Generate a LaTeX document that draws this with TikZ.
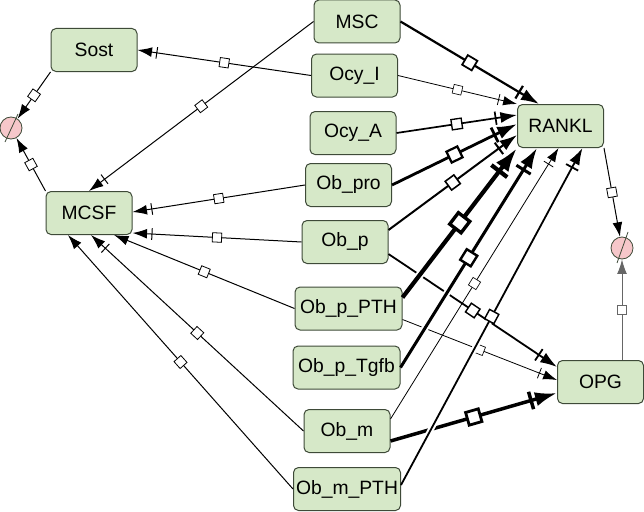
\documentclass[tikz,border=0pt]{standalone}
\usepackage{fontspec}
\setmainfont{Liberation Sans}
\usetikzlibrary{arrows.meta,calc,decorations.markings}
\definecolor{nodefill}{HTML}{D6E8C8}
\definecolor{nodeline}{HTML}{3E4A38}
\definecolor{degfill}{HTML}{F6C7CA}
\tikzset{
  sp/.style={draw=nodeline, fill=nodefill, rounded corners=5pt, line width=1pt,
    minimum width=86pt, minimum height=43pt, inner sep=0pt,
    font=\fontsize{19.3}{22}\selectfont},
  spw/.style={sp, minimum width=107pt},
  degr/.style={circle, draw=nodeline, fill=degfill, line width=0.8pt, minimum size=22pt, inner sep=0pt},
  basearr/.code={%
    \pgfmathsetmacro\lwv{#1}%
    \pgfmathsetmacro\sqv{3.8+0.8*#1}%
    \pgfmathsetmacro\sqw{0.8*#1}%
    \tikzset{line width=\lwv pt, -{Latex[length={11.5pt 3},width={8pt 1.8}]},
      postaction={decorate,decoration={markings,
        mark=at position 0.5 with {\draw[line width=\sqw pt,fill=white,arrows=-] (-\sqv pt,-\sqv pt) rectangle (\sqv pt,\sqv pt);}}}}%
  },
  barmark/.code={%
    \pgfmathsetmacro\bdv{16.5+3*#1}%
    \pgfmathsetmacro\bhv{4.5+1.3*#1}%
    \tikzset{postaction={decorate,decoration={markings,
        mark=at position -\bdv pt with {\draw[arrows=-] (0pt,-\bhv pt) -- (0pt,\bhv pt);}}}}%
  },
  flow/.style={basearr=#1},
  infl/.style={basearr=#1, barmark=#1},
  halo/.style={preaction={draw=white, line width=#1pt, arrows=-, shorten <=8pt, shorten >=30pt}},
}
\begin{document}
\begin{tikzpicture}[x=1pt,y=-1pt]
\useasboundingbox (0,0) rectangle (644,511);
% nodes
\node[sp]  (sost)    at (94,50)     {Sost};
\node[sp]  (msc)     at (357,21.5)  {MSC};
\node[sp]  (ocyi)    at (354.5,75.5) {Ocy\_I};
\node[sp]  (ocya)    at (353,133)   {Ocy\_A};
\node[sp]  (rankl)   at (560.5,126) {RANKL};
\node[sp]  (obpro)   at (348.5,185) {Ob\_pro};
\node[sp]  (mcsf)    at (89,213)    {MCSF};
\node[sp]  (obp)     at (345,242)   {Ob\_p};
\node[spw] (obppth)  at (348.5,308.5) {Ob\_p\_PTH};
\node[spw] (obptgfb) at (346.5,367.5) {Ob\_p\_Tgfb};
\node[sp]  (opg)     at (600.5,382) {OPG};
\node[sp]  (obm)     at (347,431)   {Ob\_m};
\node[spw] (obmpth)  at (347,489)   {Ob\_m\_PTH};
\node[degr] (degl) at (11,128) {};
\node[degr] (degrr) at (622,248) {};
\draw[nodeline, line width=0.8pt] ($(degl)+(-6,14)$) -- ($(degl)+(7,-14)$);
\draw[nodeline, line width=0.8pt] ($(degrr)+(-5,15)$) -- ($(degrr)+(6,-16)$);
% degradation
\draw[flow=1] (sost.south west) -- (degl);
\draw[flow=1] (mcsf.north west) -- (degl);
\draw[flow=1] (rankl.south east) -- (degrr);
\draw[flow=1, draw=black!60] (degrr |- opg.north) -- (degrr);
% to MCSF
\draw[infl=1] (msc.west) -- (mcsf.north);
\draw[infl=1] (obpro.west) -- ($(mcsf.east)+(0,-1)$);
\draw[infl=1] (obp.west) -- ($(mcsf.south east)+(0,-2)$);
\draw[flow=1] (obppth.west) -- ($(mcsf.south)+(25,0)$);
\draw[infl=1] (obm.west) -- ($(mcsf.south)+(2,0)$);
\draw[flow=1] (obmpth.west) -- ($(mcsf.south)+(-21,0)$);
% to Sost
\draw[infl=1] (ocyi.west) -- (sost.east);
% to OPG
\draw[infl=1.8] ($(obp.east)+(0,12)$) -- ($(opg.west)+(0,-15)$);
\draw[infl=0.8] ($(obppth.east)+(0,11)$) -- ($(opg.west)+(0,-2)$);
\draw[infl=3.5] ($(obm.east)+(0,10)$) -- ($(opg.west)+(0,11)$);
% to RANKL
\draw[infl=0.8] (ocyi.east) -- (rankl.north west);
\draw[infl=2.2] (msc.east) -- ($(rankl.north west)+(22,0)$);
\draw[infl=1.7] (ocya.east) -- ($(rankl.west)+(0,-11)$);
\draw[infl=2.8] (obpro.east) -- ($(rankl.west)+(0,-2)$);
\draw[infl=2] ($(obp.east)+(0,-12)$) -- ($(rankl.west)+(0,9)$);
\draw[infl=0.8] ($(obm.east)+(0,-12)$) -- ($(rankl.south)+(-2,0)$);
\draw[infl=4.2, halo=8] ($(obppth.east)+(0,-11)$) -- (rankl.south west);
\draw[infl=3, halo=7] (obptgfb.east) -- ($(rankl.south west)+(20,0)$);
\draw[infl=1.8, halo=6] ($(obmpth.east)+(0,-4)$) -- ($(rankl.south)+(22,0)$);
\end{tikzpicture}
\end{document}
